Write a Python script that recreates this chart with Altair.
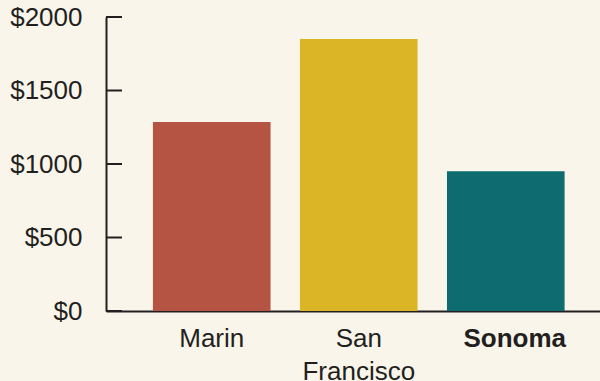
import altair as alt
import pandas as pd

# Category values
regions = ["Marin", "San Francisco", "Sonoma"]
amounts = [1285, 1850, 950]
bar_colors = ["#b55442", "#dcb526", "#0e6b70"]
tick_values = [0, 500, 1000, 1500, 2000]

INK = "#231f20"
BG = "#f9f5ea"
FONT = "Liberation Sans"

bars_df = pd.DataFrame({"region": regions, "amount": amounts})
ticks_df = pd.DataFrame({"amount": tick_values})

y_scale = alt.Scale(domain=[0, 2000], nice=False, zero=True)

bars = alt.Chart(bars_df).mark_bar().encode(
    x=alt.X(
        "region:N",
        sort=regions,
        scale=alt.Scale(paddingInner=0.2, paddingOuter=0.28, align=0.57),
        axis=alt.Axis(
            title=None,
            ticks=False,
            tickSize=0,
            labelAngle=0,
            labelFont=FONT,
            labelFontSize=26,
            labelColor=INK,
            labelPadding=14,
            labelLineHeight=33,
            labelExpr="split(datum.label, ' ')",
            labelFontWeight={
                "condition": {"test": "datum.value == 'Sonoma'", "value": "bold"},
                "value": "normal",
            },
            labelOffset={
                "condition": {"test": "datum.value == 'Sonoma'", "value": 9},
                "value": 0,
            },
            domainColor=INK,
            domainWidth=2,
        ),
    ),
    y=alt.Y(
        "amount:Q",
        scale=y_scale,
        axis=alt.Axis(
            title=None,
            values=tick_values,
            ticks=False,
            tickSize=0,
            grid=False,
            labelExpr="'$' + datum.value",
            labelFont=FONT,
            labelFontSize=26,
            labelColor=INK,
            labelPadding=24,
            domainColor=INK,
            domainWidth=2,
        ),
    ),
    color=alt.Color(
        "region:N",
        scale=alt.Scale(domain=regions, range=bar_colors),
        legend=None,
    ),
)

# Inward-pointing y ticks
ticks = alt.Chart(ticks_df).mark_rule(color=INK, strokeWidth=2).encode(
    y=alt.Y("amount:Q", scale=y_scale),
    x=alt.value(0),
    x2=alt.value(16),
)

chart = (
    alt.layer(bars, ticks)
    .properties(
        width=494,
        height=294,
        background=BG,
        padding={"left": 106, "top": 17, "right": 0, "bottom": 70},
        autosize=alt.AutoSizeParams(type="none"),
    )
    .configure_view(stroke=None)
)

chart.save("out.html", embed_options={"renderer": "svg", "actions": False})
